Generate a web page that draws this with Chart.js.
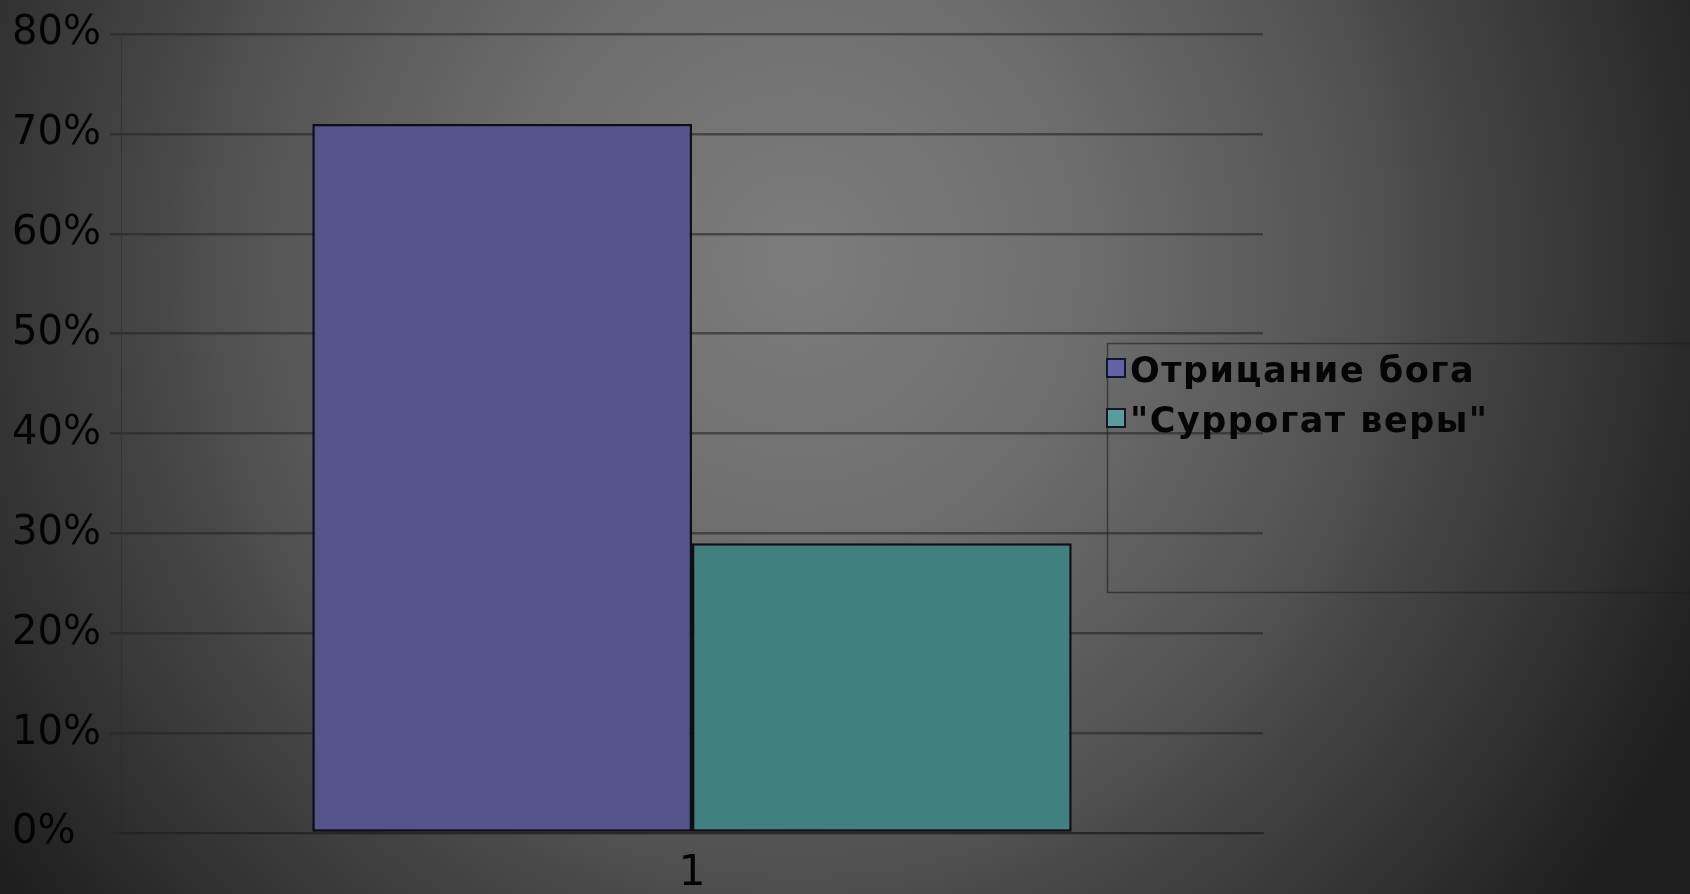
<!DOCTYPE html>
<html>
<head>
<meta charset="utf-8">
<script src="https://cdn.jsdelivr.net/npm/chart.js@4"></script>
<style>
  html, body { margin: 0; padding: 0; width: 1690px; height: 894px; overflow: hidden; }
  body {
    background: radial-gradient(950px 1000px at 800px 260px, #7c7c7c 0%, #6f6f6f 28%, #515151 61%, #484848 67%, #313131 88%, #1e1e1e 104%);
  }
  #wrap { position: absolute; left: 0; top: 0; width: 1690px; height: 894px; }
</style>
</head>
<body>
<div id="wrap"><canvas id="c" width="1690" height="894"></canvas></div>
<script>
const categories = ['1'];
const seriesNames = ['Отрицание бога', '"Суррогат веры"'];
const denialValues = [71];
const surrogateValues = [29];
const yTicks = [0, 10, 20, 30, 40, 50, 60, 70, 80];

const barColors = ['#55558b', '#428080'];
const markerColors = ['#6262a4', '#5a9c9c'];

const legendPlugin = {
  id: 'customLegend',
  afterDraw(chart) {
    const ctx = chart.ctx;
    ctx.save();
    ctx.strokeStyle = 'rgba(30,30,30,0.6)';
    ctx.lineWidth = 1.5;
    ctx.strokeRect(1107.5, 343.5, 700, 249);
    ctx.font = 'bold 35px "DejaVu Sans", sans-serif';
    if ('letterSpacing' in ctx) ctx.letterSpacing = '1.5px';
    ctx.textBaseline = 'alphabetic';
    ctx.textAlign = 'left';
    chart.data.datasets.forEach((ds, i) => {
      const cy = 368 + i * 50;
      ctx.fillStyle = markerColors[i];
      ctx.fillRect(1107, cy - 9, 18, 18);
      ctx.strokeStyle = '#15152a';
      ctx.lineWidth = 2;
      ctx.strokeRect(1107, cy - 9, 18, 18);
      ctx.fillStyle = '#050505';
      ctx.fillText(ds.label, 1130, cy + 14);
    });
    ctx.restore();
  }
};

new Chart(document.getElementById('c'), {
  type: 'bar',
  data: {
    labels: categories,
    datasets: [
      { label: seriesNames[0], data: denialValues, backgroundColor: barColors[0], borderColor: '#0e0e18', borderWidth: 2.5, borderSkipped: false },
      { label: seriesNames[1], data: surrogateValues, backgroundColor: barColors[1], borderColor: '#0e0e18', borderWidth: 2.5, borderSkipped: false }
    ]
  },
  options: {
    responsive: false,
    animation: false,
    devicePixelRatio: 1,
    layout: { padding: { left: 12, right: 427, top: 34, bottom: 0 } },
    plugins: { legend: { display: false }, tooltip: { enabled: false } },
    datasets: { bar: { categoryPercentage: 0.665, barPercentage: 1.0 } },
    scales: {
      x: {
        grid: { display: false, drawTicks: false },
        border: { display: true, color: 'rgba(35,35,35,0.7)', width: 2 },
        ticks: { color: '#030303', font: { family: '"DejaVu Sans", sans-serif', size: 42 }, padding: 16 },
        afterFit(scale) { scale.height = 61; }
      },
      y: {
        min: 0, max: 80,
        afterBuildTicks(scale) { scale.ticks = yTicks.map(v => ({ value: v })); },
        grid: { color: 'rgba(38,38,38,0.6)', lineWidth: 2.5, tickLength: 11, drawTicks: true },
        border: { display: true, color: 'rgba(40,40,40,0.5)', width: 1 },
        ticks: {
          color: '#030303',
          font: { family: '"DejaVu Sans", sans-serif', size: 40 },
          crossAlign: 'far',
          callback: v => v + '%'
        },
        afterFit(scale) { scale.width = 109; }
      }
    }
  },
  plugins: [legendPlugin]
});
</script>
</body>
</html>
